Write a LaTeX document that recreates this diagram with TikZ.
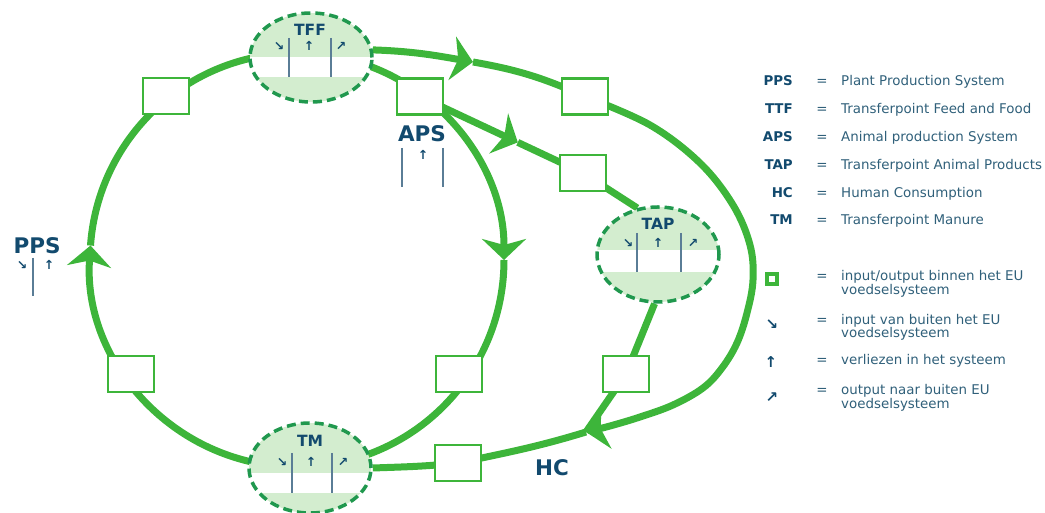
\documentclass[tikz,border=0pt]{standalone}
\usepackage{fontspec}
\setmainfont{DejaVu Sans}
\usetikzlibrary{shapes.geometric,arrows.meta,calc,backgrounds}
\definecolor{lineG}{RGB}{61,181,58}
\definecolor{dashG}{RGB}{32,152,78}
\definecolor{lightG}{RGB}{211,237,207}
\definecolor{labB}{RGB}{18,74,110}
\definecolor{txtB}{RGB}{48,96,122}
\definecolor{barB}{RGB}{90,125,150}
\begin{document}
\begin{tikzpicture}[x=1pt,y=1pt,
  flow/.style={draw=lineG, line width=7pt},
  bigtip/.style={-{Stealth[length=21pt,width=44pt,inset=6pt]}},
  iobox/.style={draw=lineG, line width=2.2pt, fill=white, minimum width=46pt, minimum height=36pt, inner sep=0pt},
  tpring/.style={ellipse, draw=dashG, line width=3.5pt, dash pattern=on 9pt off 5pt, minimum width=122pt, minimum height=#1, inner sep=0pt},
  bar/.style={draw=barB, line width=1.5pt},
  tplabel/.style={font=\bfseries\fontsize{15.5}{15.5}\selectfont, text=labB, inner sep=0pt},
  biglabel/.style={font=\bfseries\fontsize{21.5}{22}\selectfont, text=labB, inner sep=0pt},
  smarrow/.style={font=\bfseries\fontsize{12.5}{12.5}\selectfont, text=labB, inner sep=0pt},
  lgabbr/.style={font=\bfseries\fontsize{13.4}{14}\selectfont, text=labB, anchor=mid east, inner sep=0pt},
  lgeq/.style={font=\fontsize{13.4}{14}\selectfont, text=txtB, anchor=mid, inner sep=0pt},
  lgtext/.style={font=\fontsize{13.4}{14}\selectfont, text=txtB, anchor=mid west, inner sep=0pt},
  lgarrow/.style={font=\bfseries\fontsize{15}{15}\selectfont, text=labB, inner sep=0pt},
]
\useasboundingbox (0,0) rectangle (1045,513);

% ---------- boxes ----------
\node[iobox] (box1)   at (166,417) {};
\node[iobox] (box2)   at (131,139) {};
\node[iobox] (boxAPS) at (420,416.5) {};
\node[iobox] (boxTR)  at (585,416.5) {};
\node[iobox] (boxMid) at (583,340) {};
\node[iobox] (boxLow) at (626,139) {};
\node[iobox] (boxBot) at (458,50) {};
\node[iobox] (boxRL)  at (459,139) {};

% ---------- TFF ----------
\fill[lightG] (311,455.5) ellipse[x radius=61, y radius=44.5];
\begin{scope}
  \clip (311,455.5) ellipse[x radius=61, y radius=44.5];
  \fill[white] (240,455.5) rectangle (380,436);
\end{scope}
\draw[bar] (289,475) -- (289,436);
\draw[bar] (331,475) -- (331,436);
\node[tplabel] (tffT) at (310,483) {TFF};
\node[smarrow] (tffa1) at (279,467) {↘};
\node[smarrow] (tffa2) at (309,467) {↑};
\node[smarrow] (tffa3) at (341,467) {↗};
\node[tpring=89pt] (TFF) at (311,455.5) {};

% ---------- TAP ----------
\fill[lightG] (658,258.5) ellipse[x radius=61, y radius=47.5];
\begin{scope}
  \clip (658,258.5) ellipse[x radius=61, y radius=47.5];
  \fill[white] (590,263) rectangle (730,241);
\end{scope}
\draw[bar] (637,280) -- (637,241);
\draw[bar] (681,280) -- (681,241);
\node[tplabel] (tapT) at (658,289) {TAP};
\node[smarrow] (tapa1) at (628,270) {↘};
\node[smarrow] (tapa2) at (658,270) {↑};
\node[smarrow] (tapa3) at (693,270) {↗};
\node[tpring=95pt] (TAP) at (658,258.5) {};

% ---------- TM ----------
\fill[lightG] (310,45) ellipse[x radius=61, y radius=45];
\begin{scope}
  \clip (310,45) ellipse[x radius=61, y radius=45];
  \fill[white] (240,40) rectangle (380,20);
\end{scope}
\draw[bar] (292,60) -- (292,20);
\draw[bar] (332,60) -- (332,20);
\node[tplabel] (tmT) at (310,72) {TM};
\node[smarrow] (tma1) at (282,51) {↘};
\node[smarrow] (tma2) at (311,51) {↑};
\node[smarrow] (tma3) at (343,51) {↗};
\node[tpring=90pt] (TM) at (310,45) {};

% ---------- PPS / APS / HC labels ----------
\node[biglabel] (PPS) at (37,267) {PPS};
\node[smarrow] (ppsa1) at (22,248) {↘};
\node[smarrow] (ppsa2) at (49,248) {↑};
\draw[bar] (33,255) -- (33,217);

\node[biglabel] (APS) at (422,379) {APS};
\node[smarrow] (apsa2) at (423,358) {↑};
\draw[bar] (402,365) -- (402,326);
\draw[bar] (443,365) -- (443,326);

\node[biglabel] (HClab) at (552,45) {HC};
\coordinate (HC) at (586,81);

% ---------- connectors (behind) ----------
\begin{scope}[on background layer]
  \coordinate (O) at (297,253);
  \coordinate (pL0) at ($(O)+(260:207)$);
  \coordinate (pL1) at ($(O)+(176:207)$);
  \coordinate (pR0) at ($(O)+(72:207)$);
  \coordinate (pR1) at ($(O)+(0:207)$);
  % left loop TM -> PPS -> TFF
  \draw[flow,bigtip] (pL0) arc[start angle=260,end angle=176,radius=207];
  \draw[flow] (pL1) arc[start angle=176,end angle=100,radius=207];
  % right loop TFF -> APS -> TM
  \draw[flow,bigtip] (pR0) arc[start angle=72,end angle=0,radius=207];
  \draw[flow] (pR1) arc[start angle=0,end angle=-72,radius=207];
  % APS -> TAP -> HC
  \coordinate (Aaps) at ($(boxAPS.center)!0.6!(boxMid.center)$);
  \draw[flow,bigtip] (boxAPS.center) -- (Aaps);
  \draw[flow] (Aaps) -- (boxMid.center) -- (TAP.114);
  \draw[flow] (TAP.-94) -- (boxLow.center) -- (HC);
  % outer loop TFF -> HC
  \coordinate (Aout) at (473,451);
  \draw[flow,bigtip] (TFF.7) to[out=-2,in=170] (Aout);
  \draw[flow] (Aout) to[out=-10,in=156] (boxTR.center);
  \draw[flow,bigtip] plot[smooth,tension=0.6] coordinates {(boxTR.center) (650,388) (700,350) (733,308) (750,268) (753,233) (747,200) (737,170) (722,145) (703,125) (673,108) (640,96) (610,87) (HC)};
  % HC -> TM
  \draw[flow] (HC) to[out=197,in=12] (boxBot.center) to[out=186,in=2] (TM.east);
\end{scope}

% ---------- legend ----------
\node[lgabbr] (k1) at (793,430) {PPS};
\node[lgeq]   (e1) at (822,430) {=};
\node[lgtext] (t1) at (841,430) {Plant Production System};
\node[lgabbr] (k2) at (793,402) {TTF};
\node[lgeq]   (e2) at (822,402) {=};
\node[lgtext] (t2) at (841,402) {Transferpoint Feed and Food};
\node[lgabbr] (k3) at (793,374) {APS};
\node[lgeq]   (e3) at (822,374) {=};
\node[lgtext] (t3) at (841,374) {Animal production System};
\node[lgabbr] (k4) at (793,346) {TAP};
\node[lgeq]   (e4) at (822,346) {=};
\node[lgtext] (t4) at (841,346) {Transferpoint Animal Products};
\node[lgabbr] (k5) at (793,318) {HC};
\node[lgeq]   (e5) at (822,318) {=};
\node[lgtext] (t5) at (841,318) {Human Consumption};
\node[lgabbr] (k6) at (793,291) {TM};
\node[lgeq]   (e6) at (822,291) {=};
\node[lgtext] (t6) at (841,291) {Transferpoint Manure};

\node[draw=lineG, line width=3.5pt, minimum size=10pt, inner sep=0pt] (k7) at (772,234) {};
\node[lgeq]   (e7) at (822,235) {=};
\node[lgtext] (t7a) at (841,235) {input/output binnen het EU};
\node[lgtext] (t7b) at (841,221) {voedselsysteem};
\node[lgarrow] (k8) at (772,188) {↘};
\node[lgeq]   (e8) at (822,191) {=};
\node[lgtext] (t8a) at (841,191) {input van buiten het EU};
\node[lgtext] (t8b) at (841,178) {voedselsysteem};
\node[lgarrow] (k9) at (771,151) {↑};
\node[lgeq]   (e9) at (822,151) {=};
\node[lgtext] (t9) at (841,151) {verliezen in het systeem};
\node[lgarrow] (k10) at (772,115) {↗};
\node[lgeq]   (e10) at (822,121) {=};
\node[lgtext] (t10a) at (841,121) {output naar buiten EU};
\node[lgtext] (t10b) at (841,107) {voedselsysteem};
\end{tikzpicture}
\end{document}
